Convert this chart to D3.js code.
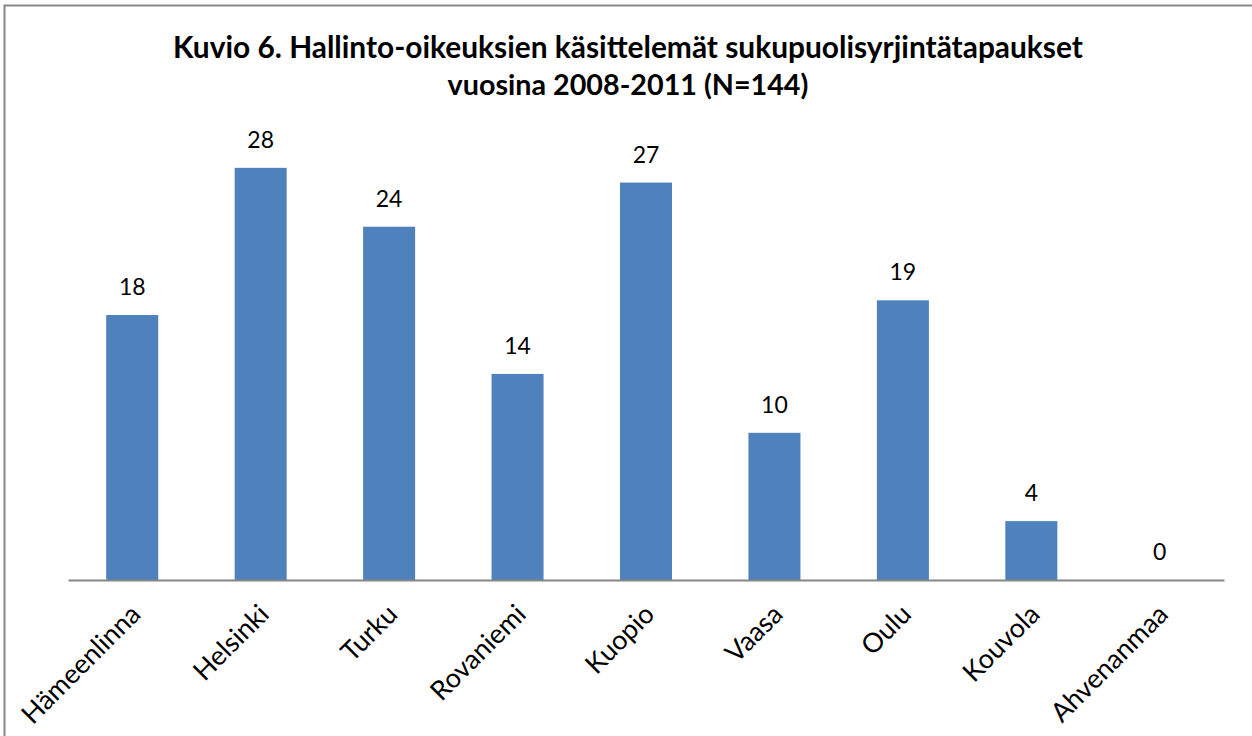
<!DOCTYPE html>
<html><head><meta charset="utf-8">
<script src="https://cdn.jsdelivr.net/npm/d3@7"></script>
<style>body{margin:0;background:#fff}svg{display:block}</style>
</head><body>
<script>
const categories = ["Hämeenlinna","Helsinki","Turku","Rovaniemi","Kuopio","Vaasa","Oulu","Kouvola","Ahvenanmaa"];
const values = [18,28,24,14,27,10,19,4,0];
const titleLines = ["Kuvio 6. Hallinto-oikeuksien käsittelemät sukupuolisyrjintätapaukset","vuosina 2008-2011 (N=144)"];

const W=1252,H=736;
const svg=d3.select("body").append("svg").attr("width",W).attr("height",H);
svg.append("rect").attr("width",W).attr("height",H).attr("fill","#fff");
svg.append("rect").attr("x",4.5).attr("y",5.5).attr("width",W+10).attr("height",H+10)
  .attr("fill","none").attr("stroke","#878787").attr("stroke-width",2);

const font="Lato, 'Open Sans', sans-serif";
const x=d3.scaleBand().domain(categories).range([68,1224]).paddingInner(0.595).paddingOuter(0.2975);
const y=d3.scaleLinear().domain([0,30]).range([580,580-30*14.72]);

const g=svg.append("g");
g.selectAll("rect.bar").data(values).join("rect").attr("class","bar")
 .attr("x",(d,i)=>x(categories[i])).attr("width",x.bandwidth())
 .attr("y",d=>y(d)).attr("height",d=>y(0)-y(d)).attr("fill","#4F81BD");

g.selectAll("text.val").data(values).join("text").attr("class","val")
 .attr("x",(d,i)=>x(categories[i])+x.bandwidth()/2).attr("y",d=>y(d)-20)
 .attr("text-anchor","middle").attr("font-family",font).attr("font-size",23).attr("fill","#000")
 .text(d=>d);

const xAxis=d3.axisBottom(x).tickSize(0).tickPadding(0);
const ax=svg.append("g").attr("transform","translate(0,580)").call(xAxis);
ax.select(".domain").attr("stroke","#868686").attr("stroke-width",2);
const lbl=ax.selectAll(".tick text").attr("font-family",font).attr("font-size",20).attr("fill","#000")
 .attr("text-anchor","end").attr("dy",null).attr("y",0)
 .attr("transform","translate(10,36) rotate(-45)");
const ref=lbl.filter(d=>d==="Hämeenlinna").node().getComputedTextLength();
lbl.attr("font-size",20*155/ref);

const t=svg.append("g");
const targetW=[910,361];
titleLines.forEach((s,i)=>{
  const tx=t.append("text").attr("x",628).attr("y",58+i*37).attr("text-anchor","middle")
   .attr("font-family",font).attr("font-weight","bold").attr("font-size",24).attr("fill","#000").text(s);
  const w=tx.node().getComputedTextLength(); tx.attr("font-size",24*targetW[i]/w);
});
</script>
</body></html>
